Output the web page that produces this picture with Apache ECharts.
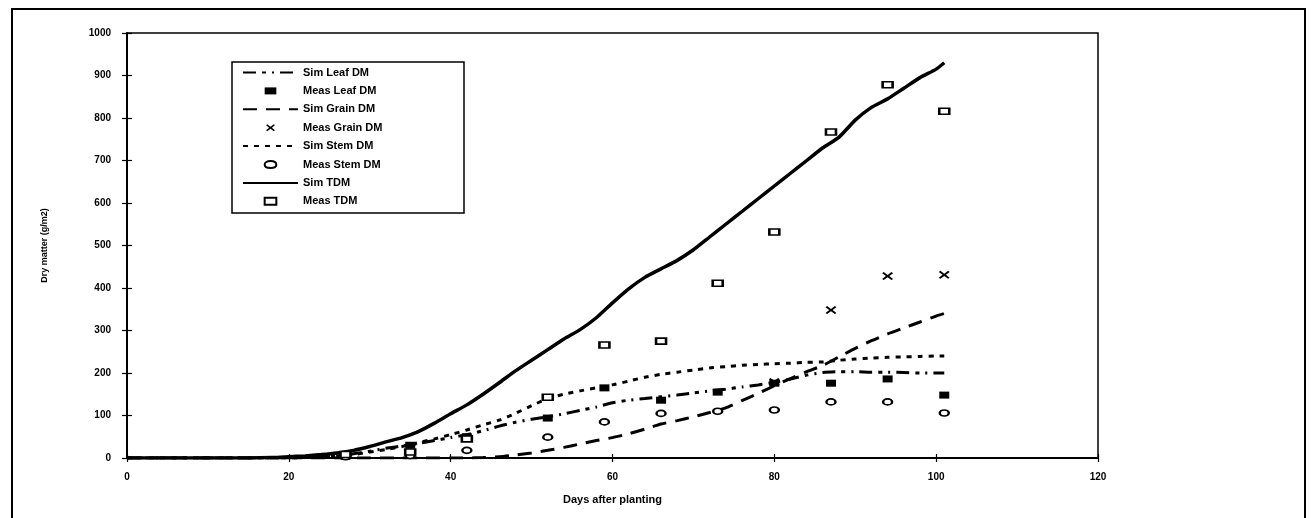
<!DOCTYPE html>
<html>
<head>
<meta charset="utf-8">
<script src="https://cdn.jsdelivr.net/npm/echarts@6/dist/echarts.min.js"></script>
<style>
html,body{margin:0;padding:0;background:#fff;}
#chart{width:1315px;height:518px;}
</style>
</head>
<body>
<div id="chart"></div>
<script>
// ---- data ----
const simDays = [0,10,15,18,20,22,24,26,28,30,32,34,36,38,40,42,44,46,48,50,52,54,56,58,60,62,64,66,68,70,72,74,76,78,80,82,84,86,88,90,92,94,96,98,100,101];
const simTDM  = [0,0,0,1,3,5,8,12,18,27,38,48,62,82,104,125,150,177,205,230,255,280,302,330,365,398,425,445,465,490,520,550,580,610,640,670,700,730,755,795,825,845,870,895,915,930];
const simStem = [0,0,0,0,0,1,2,5,8,14,20,27,36,45,55,66,78,89,105,123,140,150,158,165,172,181,190,197,202,207,212,215,218,220,222,223,225,226,230,233,235,237,238,239,240,240];
const simLeaf = [0,0,0,0,0,1,3,6,10,16,23,28,34,41,48,55,64,75,84,91,97,104,112,120,130,136,140,144,148,153,158,162,167,172,178,186,195,201,203,203,202,202,201,200,200,200];
const simGrain= [0,0,0,0,0,0,0,0,0,0,0,0,0,0,0,0,1,3,7,12,18,25,33,41,48,57,68,80,88,97,107,118,135,152,170,187,203,218,238,258,276,292,306,320,334,340];

const measDays  = [27,35,42,52,59,66,73,80,87,94,101];
const measTDM   = [8,14,45,143,266,275,411,532,767,878,816];
const measLeaf  = [4,30,50,94,165,136,155,176,176,186,148];
const measStem  = [3,6,18,49,85,105,110,113,132,132,106];
const grainDays = [80,87,94,101];
const measGrain = [179,348,428,431];

const yTicks = [0,100,200,300,400,500,600,700,800,900,1000];
const xTicks = [0,20,40,60,80,100,120];

const zip = (xs, ys) => xs.map((x, i) => [x, ys[i]]);

const FONT = 'Arial, "Liberation Sans", sans-serif';
const chart = echarts.init(document.getElementById('chart'), null, {renderer:'canvas'});

const xMax = xTicks[xTicks.length-1];
const yMax = yTicks[yTicks.length-1];

const lineSeries = (name, data, width, type) => ({
  name, type:'line', data, symbol:'none', smooth:0.2,
  lineStyle:{color:'#000', width, type},
  itemStyle:{color:'#000'},
  z:3, animation:false
});
const scatSeries = (name, data, symbol, size, fill, border) => ({
  name, type:'scatter', data, symbol, symbolSize:size,
  itemStyle:{color:fill, borderColor:'#000', borderWidth:border, opacity:1},
  z:5, animation:false
});

const xPath = 'path://M0,1.5 L1.5,0 L5,3.5 L8.5,0 L10,1.5 L6.5,5 L10,8.5 L8.5,10 L5,6.5 L1.5,10 L0,8.5 L3.5,5 Z';
const hideSym = {color:'rgba(0,0,0,0)', borderWidth:0, borderColor:'rgba(0,0,0,0)'};

const axisLab = {color:'#000', fontFamily:FONT, fontWeight:'bold', fontSize:10, formatter:v => String(v)};

chart.setOption({
  backgroundColor:'#fff',
  animation:false,
  grid:{left:127, top:33, right:217, bottom:60, show:true, borderColor:'#000', borderWidth:1.5, backgroundColor:'transparent'},
  legend:{
    orient:'vertical', left:237, top:62, itemWidth:55, itemHeight:7, itemGap:7.4,
    textStyle:{color:'#000', fontFamily:FONT, fontWeight:'bold', fontSize:11},
    data:[
      {name:'Sim Leaf DM', itemStyle:hideSym},
      {name:'Meas Leaf DM', icon:'path://M0,0 L10,0 L10,6 L0,6 Z'},
      {name:'Sim Grain DM', itemStyle:hideSym},
      {name:'Meas Grain DM', icon:'path://M0,1.2 L1.2,0 L5,2.8 L8.8,0 L10,1.2 L6.6,4 L10,6.8 L8.8,8 L5,5.2 L1.2,8 L0,6.8 L3.4,4 Z'},
      {name:'Sim Stem DM', itemStyle:hideSym},
      {name:'Meas Stem DM', icon:'path://M5,0 C8,0 10,1.3 10,3 C10,4.7 8,6 5,6 C2,6 0,4.7 0,3 C0,1.3 2,0 5,0 Z'},
      {name:'Sim TDM', itemStyle:hideSym},
      {name:'Meas TDM', icon:'path://M0,0 L10,0 L10,6 L0,6 Z'}
    ]
  },
  xAxis:[{
    type:'value', min:0, max:xMax, interval:20,
    name:'Days after planting', nameLocation:'middle', nameGap:36,
    nameTextStyle:{color:'#000', fontFamily:FONT, fontWeight:'bold', fontSize:11},
    axisLine:{lineStyle:{color:'#000', width:2}},
    axisTick:{show:true, length:4, lineStyle:{color:'#000', width:1.2}},
    axisLabel:Object.assign({margin:14}, axisLab),
    splitLine:{show:false}
  },{
    type:'value', min:0, max:xMax, interval:20, position:'bottom',
    axisLine:{show:false},
    axisTick:{show:true, inside:true, length:4, lineStyle:{color:'#000', width:1.2}},
    axisLabel:{show:false}, splitLine:{show:false}
  }],
  yAxis:[{
    type:'value', min:0, max:yMax, interval:100,
    name:'Dry matter (g/m2)', nameLocation:'middle', nameGap:78,
    nameTextStyle:{color:'#000', fontFamily:FONT, fontWeight:'bold', fontSize:9},
    axisLine:{show:true, lineStyle:{color:'#000', width:2}},
    axisTick:{show:true, length:5, lineStyle:{color:'#000', width:1.2}},
    axisLabel:Object.assign({margin:16}, axisLab),
    splitLine:{show:false}
  },{
    type:'value', min:0, max:yMax, interval:100, position:'left',
    axisLine:{show:false},
    axisTick:{show:true, inside:true, length:5, lineStyle:{color:'#000', width:1.2}},
    axisLabel:{show:false}, splitLine:{show:false}
  }],
  graphic:[
    {type:'rect', silent:true, shape:{x:12, y:9, width:1293, height:530}, style:{fill:'none', stroke:'#000', lineWidth:2}},
    {type:'rect', silent:true, shape:{x:232, y:62, width:232, height:151}, style:{fill:'none', stroke:'#000', lineWidth:1.5}}
  ],
  series:[
    lineSeries('Sim Leaf DM', zip(simDays, simLeaf), 3, [13,6,4,6,2,6]),
    scatSeries('Meas Leaf DM', zip(measDays, measLeaf), 'rect', [10,7], '#000', 0),
    lineSeries('Sim Grain DM', zip(simDays, simGrain), 3, [14,9]),
    scatSeries('Meas Grain DM', zip(grainDays, measGrain), xPath, [11,8], '#000', 0),
    lineSeries('Sim Stem DM', zip(simDays, simStem), 3, [5,6]),
    scatSeries('Meas Stem DM', zip(measDays, measStem), 'circle', [9,6], '#fff', 2),
    lineSeries('Sim TDM', zip(simDays, simTDM), 3.5, 'solid'),
    scatSeries('Meas TDM', zip(measDays, measTDM), 'rect', [10,6], '#fff', 2)
  ]
});
</script>
</body>
</html>
